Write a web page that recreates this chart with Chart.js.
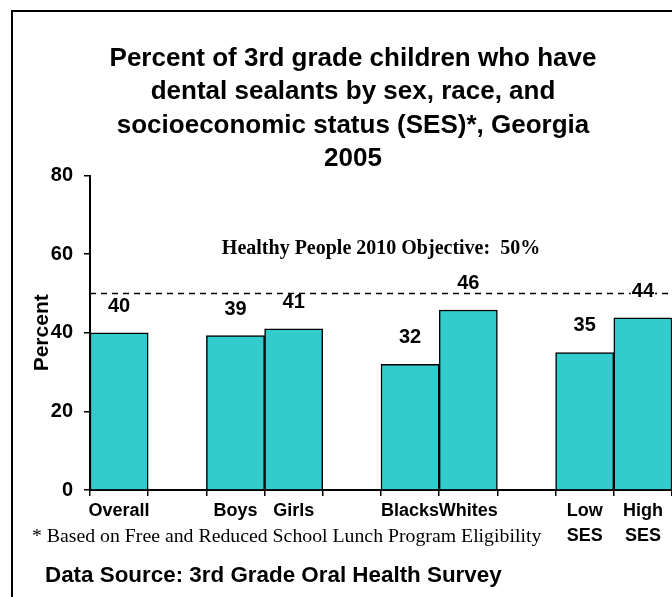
<!DOCTYPE html>
<html>
<head>
<meta charset="utf-8">
<script src="https://cdn.jsdelivr.net/npm/chart.js@4/dist/chart.umd.min.js"></script>
<style>
  html, body { margin: 0; padding: 0; background: #ffffff; }
  #c { display: block; }
</style>
</head>
<body>
<canvas id="c" width="672" height="597"></canvas>
<script>
// ---- Data ----
const categories = ["Overall", "", "Boys", "Girls", "", "Blacks", "Whites", "", ["Low", "SES"], ["High", "SES"]];
const percentValues = [40, null, 39.3, 41, null, 32, 45.8, null, 35, 43.8];
const valueLabels = ["40", "", "39", "41", "", "32", "46", "", "35", "44"];
const yTickValues = [0, 20, 40, 60, 80];
const objectiveValue = 50;
const objectiveLabel = "Healthy People 2010 Objective:  50%";
const titleLines = [
  "Percent of 3rd grade children who have",
  "dental sealants by sex, race, and",
  "socioeconomic status (SES)*, Georgia",
  "2005"
];
const yAxisTitle = "Percent";
const footnote = "* Based on Free and Reduced School Lunch Program Eligibility";
const dataSource = "Data Source: 3rd Grade Oral Health Survey";

// ---- Styling ----
const SANS = "'Liberation Sans', Arial, Helvetica, sans-serif";
const SERIF = "'Liberation Serif', 'Times New Roman', serif";
const BAR_COLOR = "#33CCCC";

Chart.defaults.font.family = SANS;
Chart.defaults.color = "#000";

const overlay = {
  id: "overlay",
  beforeDraw(chart) {
    const { ctx, width, height } = chart;
    ctx.save();
    ctx.fillStyle = "#fff";
    ctx.fillRect(0, 0, width, height);
    ctx.strokeStyle = "#000";
    ctx.lineWidth = 2;
    ctx.beginPath();
    ctx.moveTo(12, height);
    ctx.lineTo(12, 11);
    ctx.lineTo(width, 11);
    ctx.stroke();
    ctx.restore();
  },
  afterDatasetsDraw(chart) {
    const { ctx, chartArea, scales } = chart;
    const y = scales.y;
    const yObj = y.getPixelForValue(objectiveValue);
    ctx.save();
    // objective dashed line
    ctx.strokeStyle = "#000";
    ctx.lineWidth = 1.5;
    ctx.setLineDash([6, 5]);
    ctx.beginPath();
    ctx.moveTo(chartArea.left, yObj);
    ctx.lineTo(chartArea.right, yObj);
    ctx.stroke();
    ctx.setLineDash([]);
    // objective label
    ctx.fillStyle = "#000";
    ctx.font = "bold 20px " + SERIF;
    ctx.textAlign = "center";
    ctx.textBaseline = "middle";
    ctx.fillText(objectiveLabel, (chartArea.left + chartArea.right) / 2, yObj - 45);
    // value labels
    ctx.font = "bold 20px " + SANS;
    const meta = chart.getDatasetMeta(0);
    meta.data.forEach((bar, i) => {
      if (percentValues[i] == null) return;
      const ly = y.getPixelForValue(percentValues[i]) - 26.5;
      const w = ctx.measureText(valueLabels[i]).width;
      ctx.fillStyle = "#fff";
      ctx.fillRect(bar.x - w / 2 - 1, ly - 8, w + 2, 16);
      ctx.fillStyle = "#000";
      ctx.fillText(valueLabels[i], bar.x, ly);
    });
    // footnotes
    ctx.textAlign = "left";
    ctx.font = "19.8px " + SERIF;
    ctx.fillText(footnote, 32, 537);
    ctx.font = "bold 22.4px " + SANS;
    ctx.fillText(dataSource, 45, 576);
    ctx.restore();
  }
};

new Chart(document.getElementById("c"), {
  type: "bar",
  data: {
    labels: categories,
    datasets: [{
      data: percentValues,
      backgroundColor: BAR_COLOR,
      borderColor: "#000",
      borderWidth: 1.5,
      barPercentage: 1,
      categoryPercentage: 1
    }]
  },
  options: {
    responsive: false,
    animation: false,
    devicePixelRatio: 1,
    layout: { padding: { left: 34, right: 0, top: 0, bottom: 50 } },
    plugins: {
      legend: { display: false },
      tooltip: { enabled: false },
      title: {
        display: true,
        text: titleLines,
        color: "#000",
        font: { family: SANS, size: 26, weight: "bold", lineHeight: 1.282 },
        padding: { top: 42, bottom: 0.3 }
      }
    },
    scales: {
      x: {
        border: { display: true, color: "#000", width: 2 },
        grid: { display: true, drawOnChartArea: false, drawTicks: true, tickLength: 6, color: "#000", lineWidth: 1.5, offset: true },
        ticks: {
          color: "#000",
          autoSkip: false,
          maxRotation: 0,
          padding: 3,
          font: { family: SANS, size: 18, weight: "bold", lineHeight: 1.39 }
        },
        afterFit(s) { s.height = 57; }
      },
      y: {
        min: 0,
        max: 80,
        border: { display: true, color: "#000", width: 2 },
        grid: { display: true, drawOnChartArea: false, drawTicks: true, tickLength: 6, color: "#000", lineWidth: 1.5 },
        ticks: {
          color: "#000",
          padding: 11,
          font: { family: SANS, size: 20, weight: "bold" }
        },
        afterBuildTicks(s) { s.ticks = yTickValues.map(v => ({ value: v })); },
        title: {
          display: true,
          text: yAxisTitle,
          color: "#000",
          padding: { top: 0, bottom: 0 },
          font: { family: SANS, size: 21, weight: "bold", lineHeight: 0.8 }
        },
        afterFit(s) { s.width = 56; }
      }
    }
  },
  plugins: [overlay]
});
</script>
</body>
</html>
